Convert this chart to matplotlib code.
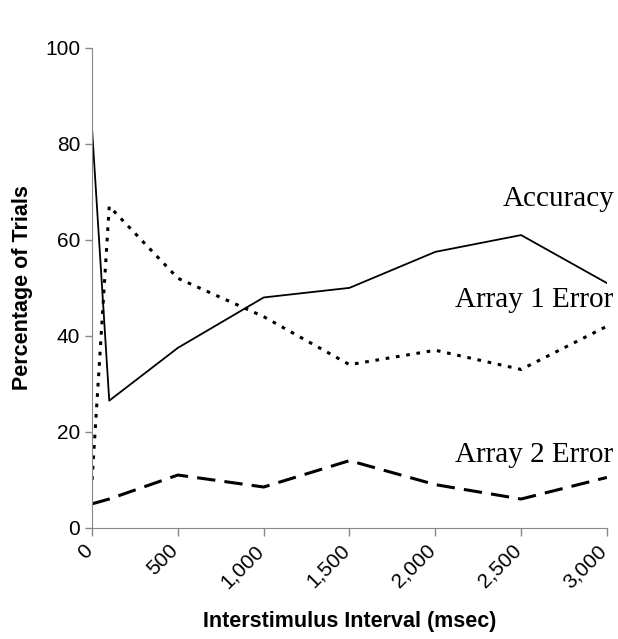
import matplotlib
matplotlib.use("Agg")
import matplotlib.pyplot as plt
import matplotlib.transforms as mtransforms

# interstimulus interval (msec)
isi = [0, 100, 500, 1000, 1500, 2000, 2500, 3000]

accuracy = [83, 26.5, 37.5, 48, 50, 57.5, 61, 51]
array1_error = [10, 67, 52, 44, 34, 37, 33, 42]
array2_error = [5, 6, 11, 8.5, 14, 9, 6, 10.5]

xticks = [0, 500, 1000, 1500, 2000, 2500, 3000]
xtick_labels = ["0", "500", "1,000", "1,500", "2,000", "2,500", "3,000"]

fig = plt.figure(figsize=(6.18, 6.39), dpi=100)
ax = fig.add_axes([0.149, 0.174, 0.833, 0.751])

ax.plot(isi, accuracy, color="black", lw=1.3)
ax.plot(isi, array1_error, color="black", lw=2.2, dashes=(1.2, 2.2))
ax.plot(isi, array2_error, color="black", lw=2.2, dashes=(6, 3))

ax.set_xlim(0, 3000)
ax.set_ylim(0, 100)

for s in ["top", "right"]:
    ax.spines[s].set_visible(False)
for s in ["left", "bottom"]:
    ax.spines[s].set_color("#888888")
ax.tick_params(axis="both", direction="out", length=6, color="#888888", width=1)
ax.tick_params(axis="y", length=5)

ax.set_yticks([0, 20, 40, 60, 80, 100])
ax.set_xticks(xticks)
ax.set_xticklabels(xtick_labels, rotation=45, ha="right", rotation_mode="anchor",
                   fontsize=15, family="Liberation Sans")
for lab in ax.get_yticklabels():
    lab.set_fontsize(15)
    lab.set_family("Liberation Sans")

# nudge the rotated labels a bit to the left, like the original
shift = mtransforms.ScaledTranslation(-7 / 72, 0, fig.dpi_scale_trans)
for lab in ax.xaxis.get_majorticklabels():
    lab.set_transform(lab.get_transform() + shift)

ax.set_xlabel("Interstimulus Interval (msec)", fontsize=15.5, fontweight="bold",
              family="Liberation Sans", labelpad=14)
ax.set_ylabel("Percentage of Trials", fontsize=15.5, fontweight="bold",
              family="Liberation Sans", labelpad=9)

ax.text(3045, 68.5, "Accuracy", ha="right", va="center", fontsize=21,
        family="Liberation Serif", clip_on=False)
ax.text(3035, 47.5, "Array 1 Error", ha="right", va="center", fontsize=21,
        family="Liberation Serif", clip_on=False)
ax.text(3035, 15.2, "Array 2 Error", ha="right", va="center", fontsize=21,
        family="Liberation Serif", clip_on=False)

fig.savefig("out.png", dpi=100)
